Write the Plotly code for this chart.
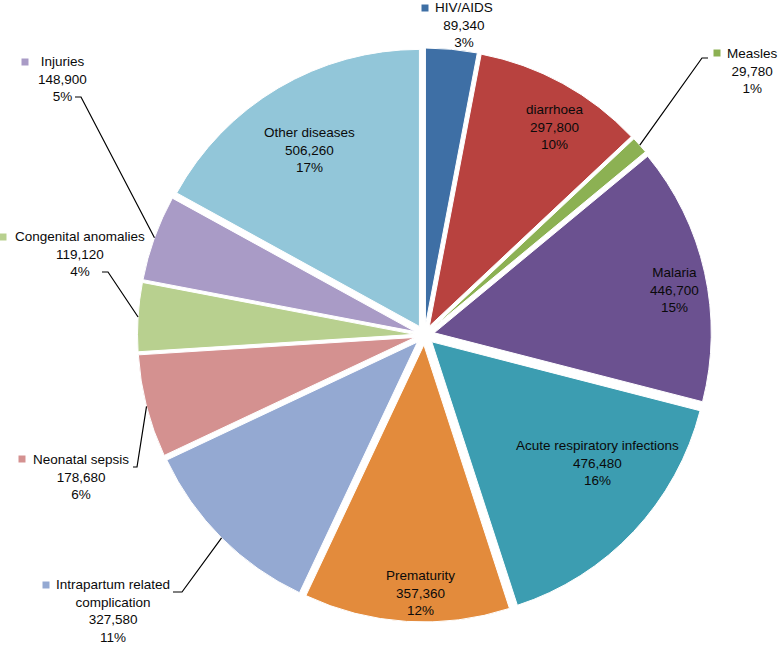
import math
import plotly.graph_objects as go

# ---------------- data ----------------
causes = ["HIV/AIDS", "diarrhoea", "Measles", "Malaria", "Acute respiratory infections",
          "Prematurity", "Intrapartum related complication", "Neonatal sepsis",
          "Congenital anomalies", "Injuries", "Other diseases"]
deaths = [89340, 297800, 29780, 446700, 476480, 357360, 327580, 178680, 119120, 148900, 506260]
colors = ["#3e6fa5", "#b8423f", "#8cb153", "#6b5190", "#3c9db1", "#e38b3c",
          "#94a9d2", "#d49190", "#b8d08f", "#a99bc6", "#92c6d9"]
label_names = {"Intrapartum related complication": "Intrapartum related<br>complication"}

# ---------------- layout constants ----------------
W, H = 778, 645
CX, CY = 424.5, 335.0        # pie centre (px)
HALF = 287.0                 # half size of pie box (px)
PULL = 0.036
FONT = "Liberation Sans, Arial, Helvetica, sans-serif"
FS = 13.5

inside_pos = {               # centre of text block (px)
    "diarrhoea": (555, 127),
    "Malaria": (674, 290),
    "Acute respiratory infections": (597, 463),
    "Prematurity": (421, 593),
    "Other diseases": (309, 150),
}
outside = {                  # text centre, key square, leader elbow points
    "HIV/AIDS": dict(text=(464, 25), key=(425, 8), leader=None),
    "Measles": dict(text=(752, 71), key=(717, 53), leader=[(708, 58), (702, 58)]),
    "Injuries": dict(text=(63, 79), key=(25, 62), leader=[(75, 97), (81, 97)]),
    "Congenital anomalies": dict(text=(80, 254), key=(3, 237), leader=[(102, 272), (108, 272)]),
    "Neonatal sepsis": dict(text=(81, 477), key=(22, 459), leader=[(133, 467), (137, 467)]),
    "Intrapartum related complication": dict(text=(113, 611), key=(46, 585), leader=[(173, 592), (182, 592)]),
}

def px(x):
    return x / W

def py(y):
    return 1 - y / H

total = sum(deaths)
pct = [f"{round(100 * v / total)}%" for v in deaths]

fig = go.Figure(go.Pie(
    labels=causes,
    values=deaths,
    sort=False,
    direction="clockwise",
    rotation=0,
    pull=[PULL] * len(deaths),
    marker=dict(colors=colors, line=dict(color="white", width=1)),
    textinfo="none",
    hoverinfo="skip",
    showlegend=False,
    domain=dict(x=[px(CX - HALF), px(CX + HALF)], y=[py(CY + HALF), py(CY - HALF)]),
))

annotations = []
shapes = []
R = HALF / (1 + PULL)

cum = 0.0
for name, val, col, p in zip(causes, deaths, colors, pct):
    mid = (cum + val / 2) / total * 2 * math.pi
    cum += val
    txt = f"{label_names.get(name, name)}<br>{val:,}<br>{p}"
    if name in inside_pos:
        x, y = inside_pos[name]
    else:
        x, y = outside[name]["text"]
    annotations.append(dict(x=px(x), y=py(y), xref="paper", yref="paper", text=txt,
                            showarrow=False, align="center", xanchor="center", yanchor="middle",
                            font=dict(family=FONT, size=FS, color="#0a0a0a")))
    if name in outside:
        o = outside[name]
        kx, ky = o["key"]
        shapes.append(dict(type="rect", xref="paper", yref="paper",
                           x0=px(kx - 3.5), x1=px(kx + 3.5), y0=py(ky + 3.5), y1=py(ky - 3.5),
                           fillcolor=col, line=dict(width=0)))
        if o["leader"]:
            (x1, y1), (x2, y2) = o["leader"]
            ex = CX + R * (1 + PULL) * math.sin(mid)
            ey = CY - R * (1 + PULL) * math.cos(mid)
            path = f"M {px(x1)} {py(y1)} L {px(x2)} {py(y2)} L {px(ex)} {py(ey)}"
            shapes.append(dict(type="path", xref="paper", yref="paper", path=path,
                               line=dict(color="black", width=1.2)))

fig.update_layout(
    width=W, height=H,
    margin=dict(l=0, r=0, t=0, b=0),
    paper_bgcolor="white", plot_bgcolor="white",
    annotations=annotations,
    shapes=shapes,
)
fig.write_html("out.html", config={"displayModeBar": False},
               post_script="document.body.style.margin='0';document.body.style.overflow='hidden';")
